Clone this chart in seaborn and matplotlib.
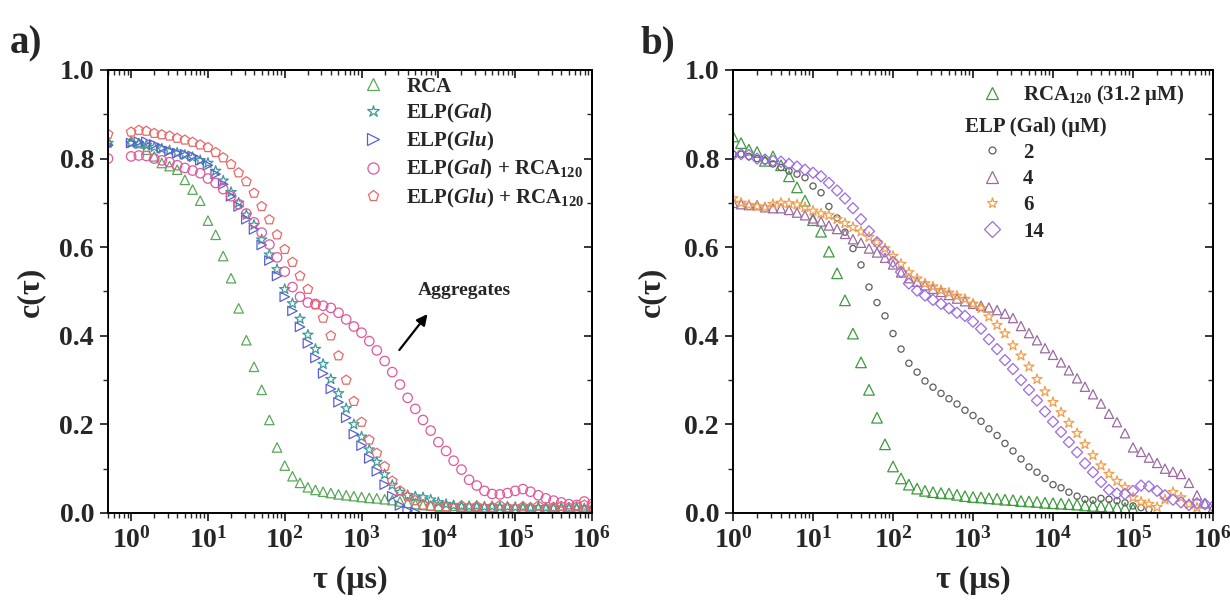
import matplotlib
matplotlib.use("Agg")
import matplotlib.pyplot as plt
from matplotlib.lines import Line2D
from matplotlib.ticker import (LogLocator, FixedLocator, MultipleLocator,
                               FormatStrFormatter, NullFormatter, LogFormatterSciNotation)
import numpy as np
import seaborn as sns

NA = np.nan

# lag times (us), panel a starts at 0.5
TAU_A = [0.5, 1.0, 1.26, 1.58, 2.0, 2.51, 3.16, 3.98, 5.01, 6.31, 7.94,
         10, 12.6, 15.8, 20.0, 25.1, 31.6, 39.8, 50.1, 63.1, 79.4,
         100, 126, 158, 200, 251, 316, 398, 501, 631, 794,
         1000, 1260, 1580, 2000, 2510, 3160, 3980, 5010, 6310, 7940,
         1.0e4, 1.26e4, 1.58e4, 2.0e4, 2.51e4, 3.16e4, 3.98e4, 5.01e4, 6.31e4, 7.94e4,
         1.0e5, 1.26e5, 1.58e5, 2.0e5, 2.51e5, 3.16e5, 3.98e5, 5.01e5, 6.31e5, 7.94e5,
         1.0e6]
TAU_B = TAU_A[1:]
DECADES = [1, 10, 100, 1e3, 1e4, 1e5, 1e6]

# panel a
RCA_A = [0.84, 0.84, 0.835, 0.82, 0.805, 0.79, 0.783, 0.775, 0.752, 0.73, 0.705,
         0.66, 0.628, 0.58, 0.53, 0.462, 0.39, 0.33, 0.278, 0.21, 0.148,
         0.107, 0.083, 0.068, 0.058, 0.052, 0.048, 0.045, 0.042, 0.040, 0.038,
         0.036, 0.034, 0.033, 0.031, 0.029, 0.026, 0.023, 0.020, 0.018, 0.017,
         0.016, 0.015, 0.016, 0.014, 0.015, 0.014, 0.013, 0.014, 0.012, 0.013,
         0.012, 0.011, 0.012, 0.011, 0.010, 0.011, 0.010, 0.011, 0.010, 0.009,
         0.010]
ELP_GAL_A = [0.835, 0.835, 0.833, 0.83, 0.826, 0.822, 0.818, 0.813, 0.808, 0.803, 0.796,
             0.79, 0.772, 0.75, 0.724, 0.70, 0.673, 0.65, 0.617, 0.583, 0.55,
             0.505, 0.473, 0.438, 0.402, 0.37, 0.336, 0.302, 0.27, 0.236, 0.20,
             0.172, 0.143, 0.115, 0.087, 0.063, 0.047, 0.040, 0.037, 0.035, 0.030,
             0.024, 0.020, 0.017, 0.016, 0.015, 0.016, 0.014, 0.015, 0.013, 0.014,
             0.013, 0.014, 0.012, 0.013, 0.012, 0.011, 0.012, 0.011, 0.012, 0.010,
             0.011]
ELP_GLU_A = [0.83, 0.835, 0.838, 0.838, 0.832, 0.824, 0.817, 0.812, 0.81, 0.806, 0.796,
             0.785, 0.765, 0.742, 0.715, 0.692, 0.663, 0.64, 0.605, 0.57, 0.535,
             0.488, 0.456, 0.42, 0.383, 0.35, 0.315, 0.28, 0.25, 0.215, 0.178,
             0.152, 0.123, 0.094, 0.064, 0.038, 0.017, 0.005, 0.002, NA, NA,
             NA, NA, NA, NA, NA, NA, NA, NA, NA, NA,
             NA, NA, NA, NA, NA, NA, NA, NA, NA, NA,
             NA]
ELP_GAL_RCA_A = [0.80, 0.805, 0.807, 0.806, 0.80, 0.796, 0.792, 0.785, 0.779, 0.773, 0.767,
                 0.755, 0.745, 0.731, 0.715, 0.697, 0.676, 0.656, 0.633, 0.606, 0.577,
                 0.545, 0.51, 0.488, 0.475, 0.472, 0.468, 0.463, 0.452, 0.437, 0.421,
                 0.407, 0.388, 0.367, 0.343, 0.318, 0.29, 0.26, 0.235, 0.21, 0.186,
                 0.16, 0.14, 0.118, 0.098, 0.075, 0.062, 0.05, 0.043, 0.042, 0.045,
                 0.05, 0.054, 0.048, 0.04, 0.033, 0.028, 0.024, 0.02, 0.018, 0.026,
                 0.02]
ELP_GLU_RCA_A = [0.855, 0.86, 0.864, 0.862, 0.857, 0.854, 0.851, 0.846, 0.842, 0.837, 0.831,
                 0.825, 0.814, 0.802, 0.787, 0.768, 0.748, 0.722, 0.692, 0.662, 0.628,
                 0.595, 0.566, 0.535, 0.505, 0.47, 0.44, 0.40, 0.355, 0.30, 0.252,
                 0.205, 0.165, 0.135, 0.105, 0.072, 0.05, 0.037, 0.028, 0.018, 0.015,
                 0.012, 0.014, 0.010, 0.016, 0.012, 0.015, 0.011, 0.013, 0.017, 0.012,
                 0.010, 0.014, 0.012, 0.016, 0.011, 0.013, 0.015, 0.012, 0.014, 0.018,
                 0.015]

# panel b
RCA_B = [0.85, 0.835, 0.82, 0.815, 0.795, 0.805, 0.785, 0.76, 0.735, 0.705,
         0.661, 0.635, 0.59, 0.541, 0.48, 0.405, 0.34, 0.278, 0.215, 0.155,
         0.105, 0.078, 0.064, 0.055, 0.05, 0.047, 0.045, 0.044, 0.041, 0.038,
         0.036, 0.035, 0.033, 0.032, 0.030, 0.029, 0.027, 0.026, 0.025, 0.023,
         0.022, 0.021, 0.020, 0.019, 0.017, 0.016, 0.015, 0.014, 0.012, 0.011,
         0.009, NA, NA, NA, NA, NA, NA, NA, NA, NA,
         NA]
GAL2_B = [0.81, 0.81, 0.805, 0.80, 0.795, 0.788, 0.78, 0.772, 0.765, 0.757,
          0.738, 0.723, 0.692, 0.666, 0.634, 0.597, 0.56, 0.51, 0.475, 0.445,
          0.405, 0.37, 0.338, 0.318, 0.298, 0.284, 0.27, 0.258, 0.246, 0.232,
          0.22, 0.207, 0.19, 0.175, 0.157, 0.14, 0.122, 0.104, 0.092, 0.078,
          0.064, 0.057, 0.047, 0.038, 0.031, 0.029, 0.033, 0.031, 0.028, 0.023,
          0.016, 0.012, 0.008, NA, NA, NA, NA, NA, NA, NA,
          NA]
GAL4_B = [0.70, 0.697, 0.695, 0.695, 0.69, 0.688, 0.688, 0.684, 0.678, 0.672,
          0.665, 0.658, 0.649, 0.641, 0.63, 0.618, 0.61, 0.597, 0.588, 0.576,
          0.561, 0.543, 0.53, 0.522, 0.514, 0.506, 0.499, 0.492, 0.484, 0.478,
          0.472, 0.468, 0.464, 0.458, 0.45, 0.44, 0.422, 0.406, 0.39, 0.372,
          0.357, 0.34, 0.322, 0.304, 0.285, 0.268, 0.247, 0.224, 0.205, 0.18,
          0.148, 0.138, 0.125, 0.113, 0.10, 0.093, 0.088, 0.068, 0.04, 0.022,
          0.012]
GAL6_B = [0.71, 0.70, 0.695, 0.692, 0.69, 0.697, 0.70, 0.699, 0.696, 0.69,
          0.682, 0.676, 0.672, 0.663, 0.654, 0.645, 0.635, 0.623, 0.611, 0.597,
          0.58, 0.562, 0.543, 0.529, 0.518, 0.511, 0.503, 0.497, 0.49, 0.483,
          0.472, 0.462, 0.443, 0.424, 0.405, 0.378, 0.355, 0.33, 0.302, 0.274,
          0.25, 0.227, 0.203, 0.18, 0.155, 0.13, 0.107, 0.088, 0.072, 0.058,
          0.035, 0.025, 0.02, 0.013, 0.03, 0.047, 0.035, 0.02, 0.012, NA,
          NA]
GAL14_B = [0.808, 0.81, 0.808, 0.80, 0.798, 0.795, 0.793, 0.788, 0.782, 0.775,
           0.768, 0.76, 0.745, 0.728, 0.71, 0.688, 0.663, 0.636, 0.611, 0.59,
           0.567, 0.544, 0.518, 0.502, 0.491, 0.481, 0.472, 0.462, 0.452, 0.445,
           0.432, 0.416, 0.392, 0.37, 0.345, 0.325, 0.30, 0.278, 0.254, 0.229,
           0.206, 0.183, 0.16, 0.137, 0.112, 0.092, 0.07, 0.052, 0.044, 0.043,
           0.05, 0.062, 0.06, 0.05, 0.04, 0.03, 0.024, 0.018, 0.022, 0.02,
           0.015]

LABELS_A = ['RCA', 'ELP($\\mathit{Gal}$)', 'ELP($\\mathit{Glu}$)',
            'ELP($\\mathit{Gal}$) + RCA$_{120}$', 'ELP($\\mathit{Glu}$) + RCA$_{120}$']
CONC_B = ['2', '4', '6', '14']

sns.set_style("ticks")
plt.rcParams.update({
    "font.family": ["Liberation Serif", "DejaVu Serif"],
    "font.weight": "bold",
    "mathtext.fontset": "custom",
    "mathtext.rm": "Liberation Serif:bold",
    "mathtext.bf": "Liberation Serif:bold",
    "mathtext.it": "Liberation Serif:bold:italic",
    "mathtext.default": "bf",
    "axes.linewidth": 1.4,
    "axes.edgecolor": "black",
})

fig = plt.figure(figsize=(12.3, 6.01), dpi=100)
W, H = 1230, 601
ax_a = fig.add_axes([108 / W, 1 - 513 / H, 484 / W, 443 / H])
ax_b = fig.add_axes([733 / W, 1 - 513 / H, 480 / W, 443 / H])

series_a = [
    (RCA_A, '^', '#5aa85a', 46),
    (ELP_GAL_A, '*', '#3f9a9a', 60),
    (ELP_GLU_A, '>', '#5a5ed8', 46),
    (ELP_GAL_RCA_A, 'o', '#e0589c', 46),
    (ELP_GLU_RCA_A, 'p', '#e8686a', 52),
]
series_b = [
    (RCA_B, '^', '#3e9a3e', 58),
    (GAL2_B, 'o', '#5e5e5e', 20),
    (GAL4_B, '^', '#9a6aa0', 44),
    (GAL6_B, '*', '#f0a04c', 58),
    (GAL14_B, 'D', '#9b6be0', 32),
]

for vals, mk, col, s in series_a:
    sns.scatterplot(x=TAU_A, y=vals, ax=ax_a, marker=mk, s=s, facecolor='none',
                    edgecolor=col, linewidth=0.9)
for vals, mk, col, s in series_b:
    sns.scatterplot(x=TAU_B, y=vals, ax=ax_b, marker=mk, s=s, facecolor='none',
                    edgecolor=col, linewidth=0.9)


def style_axes(ax, xmin):
    ax.set_xscale('log')
    ax.set_xlim(xmin, 1e6)
    ax.set_ylim(0, 1.0)
    ax.xaxis.set_major_locator(FixedLocator(DECADES))
    ax.xaxis.set_major_formatter(LogFormatterSciNotation())
    ax.xaxis.set_minor_locator(LogLocator(base=10, subs=np.arange(2, 10), numticks=100))
    ax.xaxis.set_minor_formatter(NullFormatter())
    ax.yaxis.set_major_locator(MultipleLocator(0.2))
    ax.yaxis.set_minor_locator(MultipleLocator(0.1))
    ax.yaxis.set_major_formatter(FormatStrFormatter('%.1f'))
    ax.tick_params(which='major', direction='out', length=6, width=1.3,
                   labelsize=20, top=False, right=False, pad=4)
    ax.tick_params(which='minor', direction='out', length=3.5, width=1.0,
                   top=False, right=False)
    for sp in ax.spines.values():
        sp.set_visible(True)
        sp.set_linewidth(1.4)
    # mirrored ticks pointing inward
    top = ax.secondary_xaxis('top')
    top.xaxis.set_major_locator(FixedLocator(DECADES))
    top.xaxis.set_minor_locator(LogLocator(base=10, subs=np.arange(2, 10), numticks=100))
    top.xaxis.set_major_formatter(NullFormatter())
    top.xaxis.set_minor_formatter(NullFormatter())
    top.tick_params(which='major', direction='in', length=6, width=1.3)
    top.tick_params(which='minor', direction='in', length=3.5, width=1.0)
    right = ax.secondary_yaxis('right')
    right.yaxis.set_major_locator(MultipleLocator(0.2))
    right.yaxis.set_minor_locator(MultipleLocator(0.1))
    right.yaxis.set_major_formatter(NullFormatter())
    right.tick_params(which='major', direction='in', length=6, width=1.3)
    right.tick_params(which='minor', direction='in', length=3.5, width=1.0)
    ax.set_xlabel('τ (μs)', fontsize=23, fontweight='bold')
    ax.set_ylabel('c(τ)', fontsize=23, fontweight='bold')


style_axes(ax_a, 0.5)
style_axes(ax_b, 1.0)
ax_a.xaxis.set_label_coords(0.5, -0.12)
ax_b.xaxis.set_label_coords(0.5, -0.12)
ax_a.yaxis.set_label_coords(-0.13, 0.5)
ax_b.yaxis.set_label_coords(-0.14, 0.5)


def handle(mk, col, ms):
    return Line2D([], [], marker=mk, linestyle='none', markerfacecolor='none',
                  markeredgecolor=col, markersize=ms, markeredgewidth=0.9)


leg_font = {'family': 'Liberation Serif', 'weight': 'bold', 'size': 15}
hs_a = [handle(mk, col, 8 if mk != '*' else 9) for _, mk, col, _ in series_a]
ax_a.legend(hs_a, LABELS_A, loc='upper left', bbox_to_anchor=(0.526, 0.985),
            frameon=False, prop=leg_font, borderpad=0, borderaxespad=0,
            handlelength=1.0, handletextpad=1.1, labelspacing=0.25)

rca_mk, rca_col = series_b[0][1], series_b[0][2]
leg1 = ax_b.legend([handle(rca_mk, rca_col, 8)], ['RCA$_{120}$ (31.2 μM)'],
                   loc='upper left', bbox_to_anchor=(0.483, 0.97), frameon=False,
                   prop=leg_font, borderpad=0, borderaxespad=0,
                   handlelength=2.6, handletextpad=0.2)
ax_b.add_artist(leg1)
hs_b = [handle(mk, col, 5 if mk == 'o' else 8) for _, mk, col, _ in series_b[1:]]
ax_b.legend(hs_b, CONC_B, title='ELP (Gal) (μM)', title_fontproperties=leg_font,
            alignment='left', loc='upper left', bbox_to_anchor=(0.483, 0.895),
            frameon=False, prop=leg_font, borderpad=0, borderaxespad=0,
            handlelength=2.6, handletextpad=0.2, labelspacing=0.3)

# aggregates arrow
ax_a.annotate('', xy=(7600, 0.454), xytext=(2950, 0.363),
              arrowprops=dict(arrowstyle='-|>', color='black', lw=1.6, mutation_scale=16))
ax_a.text(2.2e4, 0.503, 'Aggregates', ha='center', va='center', fontsize=14,
          fontweight='bold')

fig.text(10 / W, 1 - 44 / H, 'a)', fontsize=28, fontweight='bold', va='center', ha='left')
fig.text(640 / W, 1 - 44 / H, 'b)', fontsize=28, fontweight='bold', va='center', ha='left')

fig.savefig('out.png', dpi=100)
